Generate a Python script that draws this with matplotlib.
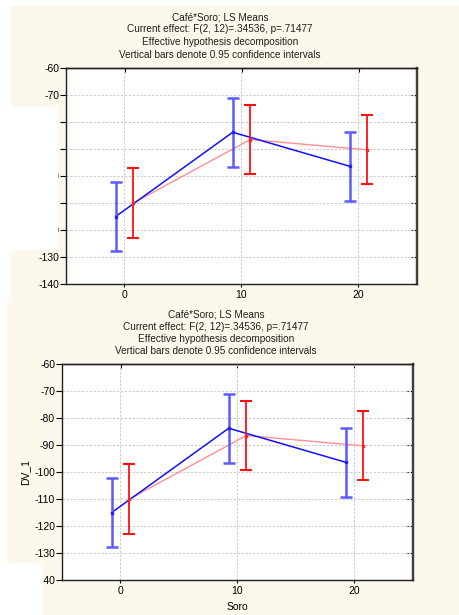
import matplotlib
matplotlib.use("Agg")
import matplotlib.pyplot as plt
from matplotlib.patches import Rectangle
import numpy as np

plt.rcParams['font.family'] = ['Liberation Sans', 'DejaVu Sans']

# ---- data ----
soro = [0, 10, 20]
blue_means = [-115.0, -83.8, -96.4]
red_means = [-110.0, -86.5, -90.3]
blue_ci = [12.7, 12.7, 12.7]
red_ci = [12.8, 12.8, 12.8]
yticks = [-60, -70, -80, -90, -100, -110, -120, -130, -140]
xticks = [0, 10, 20]
title_lines = ["Café*Soro; LS Means",
               "Current effect: F(2, 12)=.34536, p=.71477",
               "Effective hypothesis decomposition",
               "Vertical bars denote 0.95 confidence intervals"]
xlabel = "Soro"
ylabel = "DV_1"

W, H = 460, 615
fig = plt.figure(figsize=(W / 100, H / 100), dpi=100)
fig.patch.set_facecolor('white')

cream = '#FDF8EC'

def frect(x0, y0, x1, y1, color, z):
    r = Rectangle((x0 / W, 1 - y1 / H), (x1 - x0) / W, (y1 - y0) / H,
                  transform=fig.transFigure, facecolor=color, edgecolor='none',
                  zorder=z)
    fig.patches.append(r)

# backgrounds
frect(11, 6, 460, 302, cream, -10)
frect(7, 302, 460, 615, cream, -10)

off = 0.75

def panel(left, top, right, bottom, tx, ty0, with_labels):
    ax = fig.add_axes([left / W, 1 - bottom / H, (right - left) / W, (bottom - top) / H])
    ax.set_facecolor('white')
    xb = [x - off for x in soro]
    xr = [x + off for x in soro]
    ax.plot(xr, red_means, color='#FF9090', lw=1.0, zorder=3)
    ax.plot(xb, blue_means, color='#1010FF', lw=1.1, zorder=4)
    ax.errorbar(xb, blue_means, yerr=blue_ci, fmt='none', ecolor='#5A5AFF',
                elinewidth=1.8, capsize=4.3, capthick=1.8, zorder=5)
    ax.errorbar(xr, red_means, yerr=red_ci, fmt='none', ecolor='#FF1010',
                elinewidth=1.3, capsize=4.3, capthick=1.5, zorder=5)
    ax.plot(xb, blue_means, 's', color='#2020FF', ms=1.8, zorder=6)
    ax.plot(xr, red_means, 's', color='#FF2020', ms=1.8, zorder=6)
    ax.set_xlim(-5, 25)
    ax.set_ylim(-140, -60)
    ax.set_xticks(xticks)
    ax.set_yticks(yticks)
    ax.set_yticklabels([str(v) for v in yticks])
    ax.grid(True, ls=(0, (2.5, 1.5)), color='#CCCCCC', lw=0.7)
    ax.set_axisbelow(True)
    ax.tick_params(axis='y', direction='out', length=4, width=0.8, pad=1.0,
                   labelsize=7.5)
    ax.tick_params(axis='x', direction='out', length=2.5, width=0.8, pad=2,
                   labelsize=7.5)
    sy = ax.secondary_yaxis('right')
    sy.set_yticks(yticks)
    sy.tick_params(direction='in', length=4, width=0.8, labelright=False)
    sx = ax.secondary_xaxis('top')
    sx.set_xticks(xticks)
    sx.tick_params(direction='in', length=3, width=0.8, labeltop=False)
    for a in (ax, sy, sx):
        for s in a.spines.values():
            s.set_linewidth(1.0)
            s.set_color('#202020')
    sy.spines['right'].set_linewidth(1.6)
    sy.spines['right'].set_color('#404040')
    ax.spines['right'].set_linewidth(1.6)
    ax.spines['right'].set_color('#404040')
    if with_labels:
        ax.set_xlabel(xlabel, fontsize=7.5, labelpad=4)
        ax.set_ylabel(ylabel, fontsize=7.5, labelpad=3)
    for i, t in enumerate(title_lines):
        fig.text(tx / W, 1 - (ty0 + i * 12.5) / H, t, ha='center', va='center',
                 fontsize=7.2, color='#202020')
    return ax

panel(66, 68, 417, 284, 220, 17, False)
panel(62, 364, 413, 580, 216, 314, True)

# white overlays
frect(0, 107, 58, 250, 'white', 20)
frect(0, 563, 43, 615, 'white', 20)

fig.savefig('out.png', dpi=100, facecolor=fig.get_facecolor())
